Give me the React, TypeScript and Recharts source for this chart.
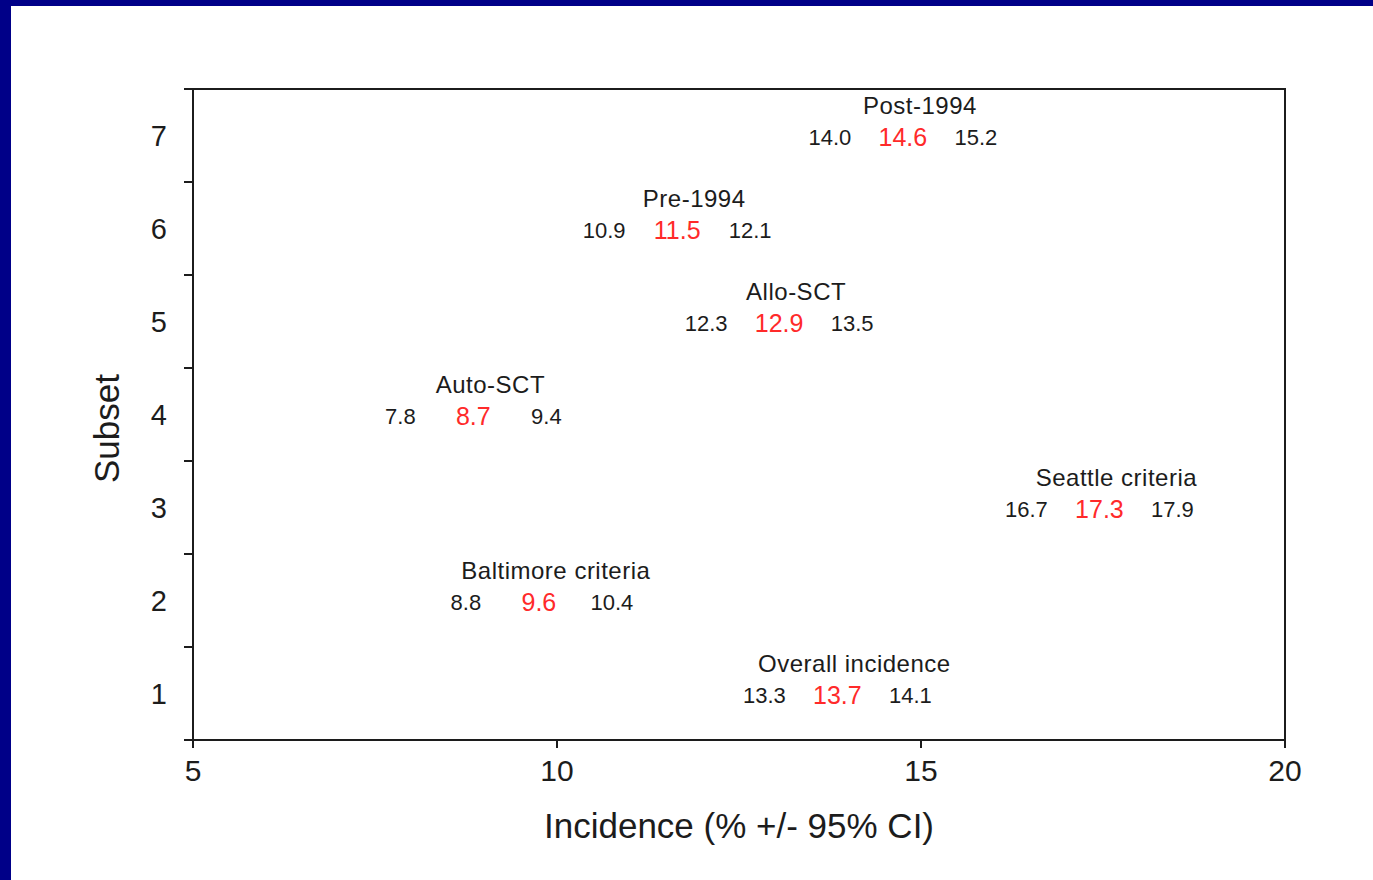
import { ScatterChart, Scatter, XAxis, YAxis, ReferenceArea } from "recharts";

// subset rows, bottom to top
const subsets = [1, 2, 3, 4, 5, 6, 7];
const subsetNames = [
	"Overall incidence",
	"Baltimore criteria",
	"Seattle criteria",
	"Auto-SCT",
	"Allo-SCT",
	"Pre-1994",
	"Post-1994",
];
const estimates = [13.7, 9.6, 17.3, 8.7, 12.9, 11.5, 14.6];
const lowerCI = [13.3, 8.8, 16.7, 7.8, 12.3, 10.9, 14.0];
const upperCI = [14.1, 10.4, 17.9, 9.4, 13.5, 12.1, 15.2];

const xTicks = [5, 10, 15, 20];
const yTicks = [0.5, 1, 1.5, 2, 2.5, 3, 3.5, 4, 4.5, 5, 5.5, 6, 6.5, 7, 7.5];

const data = subsets.map((s, i) => ({
	subset: s,
	name: subsetNames[i],
	est: estimates[i],
	lo: lowerCI[i],
	hi: upperCI[i],
}));

const FONT = "'Liberation Sans', Arial, sans-serif";
const INK = "#1c1c1c";
const RED = "#ff2a2a";
const NAVY = "#000088";
const TICK_SIZE = 9;
const TICK_GAP = 17;

function RowLabel(props: any) {
	const { cx, cy, payload } = props;
	if (cx == null || cy == null) return null;
	const c = cx + 11;
	return (
		<g fontFamily={FONT}>
			<text x={c + 17} y={cy - 22} textAnchor="middle" fontSize={24} letterSpacing={0.5} fill={INK}>
				{payload.name}
			</text>
			<text x={c - 73} y={cy + 9} textAnchor="middle" fontSize={22} fill={INK}>
				{payload.lo.toFixed(1)}
			</text>
			<text x={c} y={cy + 10} textAnchor="middle" fontSize={25} fill={RED}>
				{payload.est.toFixed(1)}
			</text>
			<text x={c + 73} y={cy + 9} textAnchor="middle" fontSize={22} fill={INK}>
				{payload.hi.toFixed(1)}
			</text>
		</g>
	);
}

function YTick(props: any) {
	const { x, y, payload } = props;
	const v = payload.value;
	if (Number.isInteger(v)) {
		return (
			<text x={x} y={y} dy="0.36em" textAnchor="end" fontSize={29} fontFamily={FONT} fill={INK}>
				{v}
			</text>
		);
	}
	return (
		<line
			x1={x + TICK_GAP}
			x2={x + TICK_GAP + TICK_SIZE}
			y1={y}
			y2={y}
			stroke={INK}
			strokeWidth={2}
		/>
	);
}

function YTitle(props: any) {
	const { viewBox } = props;
	const cx = viewBox.x + 106;
	const cy = viewBox.y + viewBox.height / 2 + 14;
	return (
		<text
			x={cx}
			y={cy}
			transform={`rotate(-90, ${cx}, ${cy})`}
			textAnchor="middle"
			dominantBaseline="central"
			fontSize={35}
			fontFamily={FONT}
			fill={INK}
		>
			Subset
		</text>
	);
}

function XTitle(props: any) {
	const { viewBox } = props;
	return (
		<text
			x={viewBox.x + viewBox.width / 2}
			y={viewBox.y + 98}
			textAnchor="middle"
			fontSize={35}
			fontFamily={FONT}
			fill={INK}
		>
			Incidence (% +/- 95% CI)
		</text>
	);
}

export default function App() {
	return (
		<div
			style={{
				position: "absolute",
				left: 0,
				top: 0,
				width: 1373,
				height: 880,
				background: NAVY,
				overflow: "hidden",
			}}
		>
			<div
				style={{
					position: "absolute",
					left: 11,
					top: 6,
					right: 0,
					bottom: 0,
					background: "#fff",
				}}
			/>
			<div style={{ position: "absolute", left: 0, top: 0 }}>
				<ScatterChart
					width={1373}
					height={880}
					margin={{ top: 89, right: 88, bottom: 0, left: 0 }}
				>
					<XAxis
						type="number"
						dataKey="est"
						domain={[5, 20]}
						ticks={xTicks}
						height={140}
						tickSize={8}
						tickMargin={12}
						stroke={INK}
						strokeWidth={2}
						tick={{ fontSize: 30, fontFamily: FONT, fill: INK }}
						label={<XTitle />}
					/>
					<YAxis
						type="number"
						dataKey="subset"
						domain={[0.5, 7.5]}
						ticks={yTicks}
						width={193}
						tickSize={TICK_SIZE}
						tickMargin={TICK_GAP}
						tickLine={false}
						stroke={INK}
						strokeWidth={2}
						tick={<YTick />}
						interval={0}
						label={<YTitle />}
					/>
					<ReferenceArea
						x1={5}
						x2={20}
						y1={0.5}
						y2={7.5}
						fill="none"
						stroke={INK}
						strokeWidth={2}
					/>
					<Scatter data={data} shape={<RowLabel />} isAnimationActive={false} />
				</ScatterChart>
			</div>
		</div>
	);
}
